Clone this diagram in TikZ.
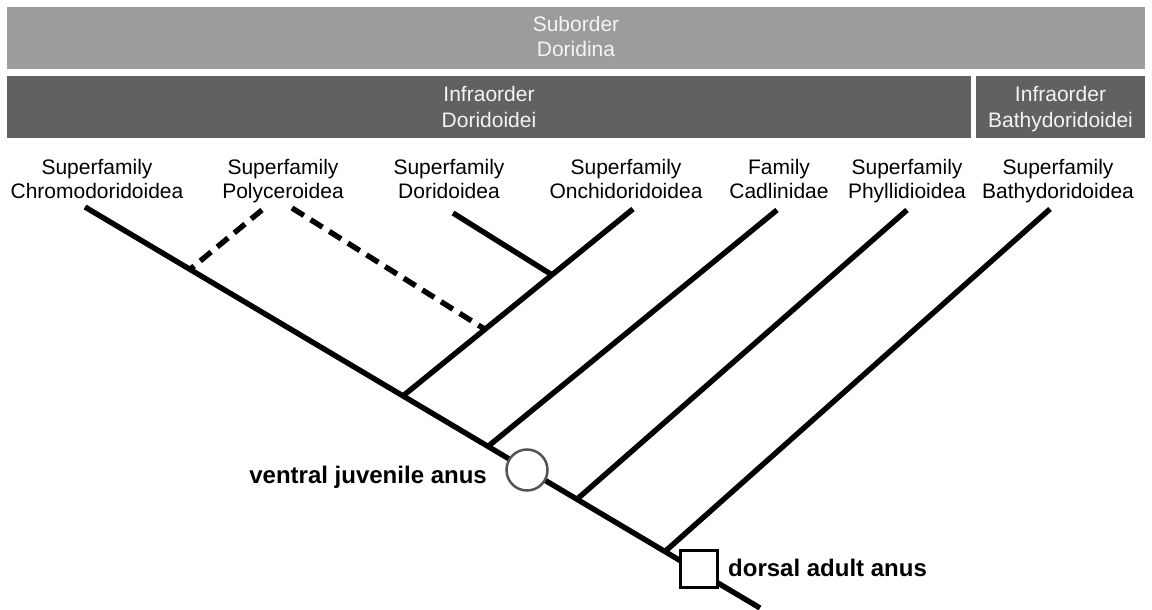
\documentclass[tikz,border=0pt]{standalone}
\usepackage{fontspec}
\setmainfont{Liberation Sans}
\begin{document}
\begin{tikzpicture}[x=1pt,y=-1pt,
  bar/.style={draw=none,inner sep=0pt,text=barText,align=center,font=\fontsize{21}{25}\selectfont},
  lab/.style={inner sep=0pt,align=center,font=\fontsize{21}{24}\selectfont},
  blab/.style={inner sep=0pt,font=\fontsize{24}{28}\selectfont\bfseries},
  br/.style={line width=5.4pt},
  dbr/.style={line width=5.4pt,dash pattern=on 14pt off 8pt}]
\useasboundingbox (0,0) rectangle (1152,610);
\definecolor{lightbar}{HTML}{9C9C9C}
\definecolor{darkbar}{HTML}{616161}
\definecolor{barText}{HTML}{F4F4F4}
% bars
\fill[lightbar] (7,7) rectangle (1145,69);
\fill[darkbar] (7,76) rectangle (971,138);
\fill[darkbar] (976,76) rectangle (1145,138);
\node[bar] (sub) at (576,39.5) {\strut Suborder\\\strut Doridina};
\node[bar] (infD) at (489,109.5) {\strut Infraorder\\\strut Doridoidei};
\node[bar] (infB) at (1060.5,109.5) {\strut Infraorder\\\strut Bathydoridoidei};
% taxon labels
\node[lab] (chr) at (97,181.2) {\strut Superfamily\\\strut Chromodoridoidea};
\node[lab] (pol) at (283,181.2) {\strut Superfamily\\\strut Polyceroidea};
\node[lab] (dor) at (449,181.2) {\strut Superfamily\\\strut Doridoidea};
\node[lab] (onc) at (626,181.2) {\strut Superfamily\\\strut Onchidoridoidea};
\node[lab] (cad) at (779,181.2) {\strut Family\\\strut Cadlinidae};
\node[lab] (phy) at (907,181.2) {\strut Superfamily\\\strut Phyllidioidea};
\node[lab] (bat) at (1058,181.2) {\strut Superfamily\\\strut Bathydoridoidea};
% tips and junctions
\coordinate (tChr) at (85,207);
\coordinate (tEnd) at (760,608);
\coordinate (tPolL) at (262,210);
\coordinate (tPolR) at (292,208);
\coordinate (tDor) at (453,213);
\coordinate (tOnc) at (633,209);
\coordinate (tCad) at (777,210);
\coordinate (tPhy) at (907,210);
\coordinate (tBat) at (1050,209);
\coordinate (j1) at (190,269.4);
\coordinate (j2) at (403,395.9);
\coordinate (j3) at (488,446.4);
\coordinate (j4) at (577,499.2);
\coordinate (j5) at (665,551.5);
\coordinate (jD) at (552,274.9);
\coordinate (jP) at (485,329.3);
% branches
\draw[br] (tChr) -- (tEnd);
\draw[br] (tOnc) -- (j2);
\draw[br] (tDor) -- (jD);
\draw[dbr] (tPolL) -- (j1);
\draw[dbr] (tPolR) -- (jP);
\draw[br] (tCad) -- (j3);
\draw[br] (tPhy) -- (j4);
\draw[br] (tBat) -- (j5);
% characters
\node[circle,draw=black!67,fill=white,line width=2.5pt,minimum size=41pt,inner sep=0pt] (ven) at (527,470) {};
\node[rectangle,draw=black,fill=white,line width=2.5pt,minimum size=37pt,inner sep=0pt] (dorsq) at (699,569) {};
\node[blab,anchor=base east] (venl) at (487,483) {ventral juvenile anus};
\node[blab,anchor=base west] (dorl) at (728,576) {dorsal adult anus};
\end{tikzpicture}
\end{document}
